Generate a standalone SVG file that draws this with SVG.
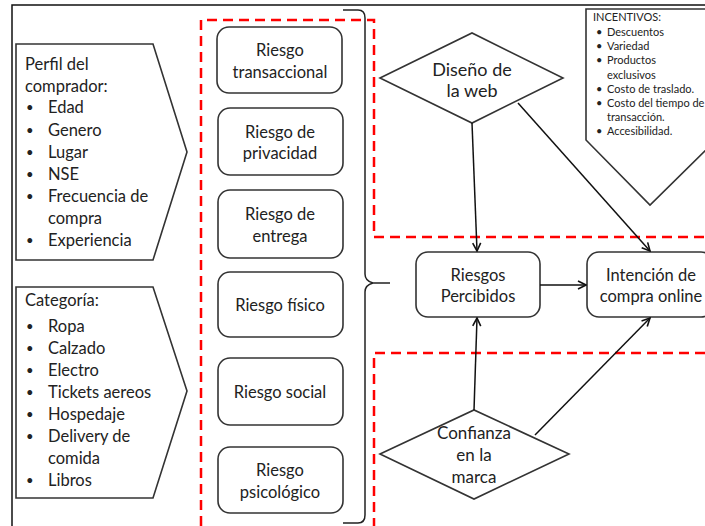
<svg xmlns="http://www.w3.org/2000/svg" width="705" height="526" viewBox="0 0 705 526">
<defs>
<marker id="arr" viewBox="0 0 10 10" refX="9" refY="5" markerWidth="10" markerHeight="10" markerUnits="userSpaceOnUse" orient="auto">
<path d="M1,1 L9,5 L1,9" fill="none" stroke="#111" stroke-width="1.6"/>
</marker>
</defs>
<style>
text{font-family:Lato,"Liberation Sans",sans-serif;fill:#222}
.t{font-size:16.5px}
.m{text-anchor:middle}
.s{font-size:11px}
.b{font-size:13px}
.box{fill:#fff;stroke:#333;stroke-width:1.6}
.red{fill:none;stroke:#f00;stroke-width:2.5;stroke-dasharray:10 6}
.con{fill:none;stroke:#111;stroke-width:1.5;marker-end:url(#arr)}
</style>
<rect width="705" height="526" fill="#fff"/>
<g id="frame"><path d="M12,526 V5 H705" fill="none" stroke="#111" stroke-width="1.5"/></g>

<g id="perfil">
<path class="box" d="M16,44 H153 L187,152 L153,260 H16 Z"/>
<text class="t" x="25" y="70">Perfil del</text>
<text class="t" x="25" y="92">comprador:</text>
<g class="t">
<text class="b" x="26" y="112">•</text><text x="48" y="113">Edad</text>
<text class="b" x="26" y="135">•</text><text x="48" y="136">Genero</text>
<text class="b" x="26" y="157">•</text><text x="48" y="158">Lugar</text>
<text class="b" x="26" y="179">•</text><text x="48" y="180">NSE</text>
<text class="b" x="26" y="201">•</text><text x="48" y="202">Frecuencia de</text>
<text x="48" y="224">compra</text>
<text class="b" x="26" y="245">•</text><text x="48" y="246">Experiencia</text>
</g>
</g>

<g id="categoria">
<path class="box" d="M16,287 H153 L187,391 L153,498 H16 Z"/>
<text class="t" x="25" y="306">Categoría:</text>
<g class="t">
<text class="b" x="26" y="331">•</text><text x="48" y="332">Ropa</text>
<text class="b" x="26" y="353">•</text><text x="48" y="354">Calzado</text>
<text class="b" x="26" y="375">•</text><text x="48" y="376">Electro</text>
<text class="b" x="26" y="397">•</text><text x="48" y="398">Tickets aereos</text>
<text class="b" x="26" y="419">•</text><text x="48" y="420">Hospedaje</text>
<text class="b" x="26" y="441">•</text><text x="48" y="442">Delivery de</text>
<text x="48" y="464">comida</text>
<text class="b" x="26" y="485">•</text><text x="48" y="486">Libros</text>
</g>
</g>

<g id="zonas">
<path class="red" d="M201,526 V20 H374 V237 H705"/>
<path class="red" d="M705,353 H374 V526"/>
</g>

<g id="llave">
<path d="M343,10 H358 Q365,10 365,18 V274 Q365,281 373,283 H390 M373,283 Q365,285 365,292 V515 Q365,523 358,523 H343" fill="none" stroke="#222" stroke-width="1.5"/>
</g>

<g id="r1"><rect class="box" x="217" y="27" width="125" height="66" rx="12"/>
<text class="t m" x="280" y="56">Riesgo</text><text class="t m" x="280" y="78">transaccional</text></g>
<g id="r2"><rect class="box" x="218" y="108" width="125" height="67" rx="12"/>
<text class="t m" x="280" y="138">Riesgo de</text><text class="t m" x="280" y="159">privacidad</text></g>
<g id="r3"><rect class="box" x="218" y="190" width="125" height="68" rx="12"/>
<text class="t m" x="280" y="220">Riesgo de</text><text class="t m" x="280" y="242">entrega</text></g>
<g id="r4"><rect class="box" x="218" y="272" width="125" height="65" rx="12"/>
<text class="t m" x="280" y="311">Riesgo físico</text></g>
<g id="r5"><rect class="box" x="218" y="358" width="125" height="67" rx="12"/>
<text class="t m" x="280" y="398">Riesgo social</text></g>
<g id="r6"><rect class="box" x="218" y="447" width="125" height="66" rx="12"/>
<text class="t m" x="280" y="476">Riesgo</text><text class="t m" x="280" y="498">psicológico</text></g>

<g id="incentivos">
<path class="box" d="M586,9 H716 V140 L650,205 L586,140 Z"/>
<text class="s" x="593" y="21">INCENTIVOS:</text>
<g class="s">
<text x="596" y="36">•</text><text x="607" y="36">Descuentos</text>
<text x="596" y="50">•</text><text x="607" y="50">Variedad</text>
<text x="596" y="64">•</text><text x="607" y="64">Productos</text>
<text x="607" y="79">exclusivos</text>
<text x="596" y="93">•</text><text x="607" y="93">Costo de traslado.</text>
<text x="596" y="107">•</text><text x="607" y="107">Costo del tiempo de</text>
<text x="607" y="121">transacción.</text>
<text x="596" y="135">•</text><text x="607" y="135">Accesibilidad.</text>
</g>
</g>

<g id="diseno">
<path class="box" d="M380,78 L472,33 L563,78 L472,123 Z"/>
<text class="m" style="font-size:18px" x="472" y="76">Diseño de</text>
<text class="m" style="font-size:18px" x="472" y="97">la web</text>
</g>

<g id="riesgos">
<rect class="box" x="416" y="252" width="124" height="65" rx="12"/>
<text class="t m" x="478" y="281">Riesgos</text>
<text class="t m" x="478" y="302">Percibidos</text>
</g>

<g id="intencion">
<rect class="box" x="587" y="252" width="126" height="65" rx="12"/>
<text class="t m" x="651" y="281">Intención de</text>
<text class="t m" x="651" y="302">compra online</text>
</g>

<g id="confianza">
<path class="box" d="M380,454 L474,410 L569,454 L474,499 Z"/>
<text class="m" style="font-size:17px" x="474" y="439">Confianza</text>
<text class="m" style="font-size:17px" x="474" y="461">en la</text>
<text class="m" style="font-size:17px" x="474" y="483">marca</text>
</g>

<g id="conectores">
<line class="con" x1="472" y1="123" x2="477" y2="251"/>
<line class="con" x1="518" y1="103" x2="650" y2="251"/>
<line class="con" x1="540" y1="285" x2="586" y2="285"/>
<line class="con" x1="474" y1="410" x2="477" y2="318"/>
<line class="con" x1="535" y1="435" x2="650" y2="318"/>
</g>
</svg>
